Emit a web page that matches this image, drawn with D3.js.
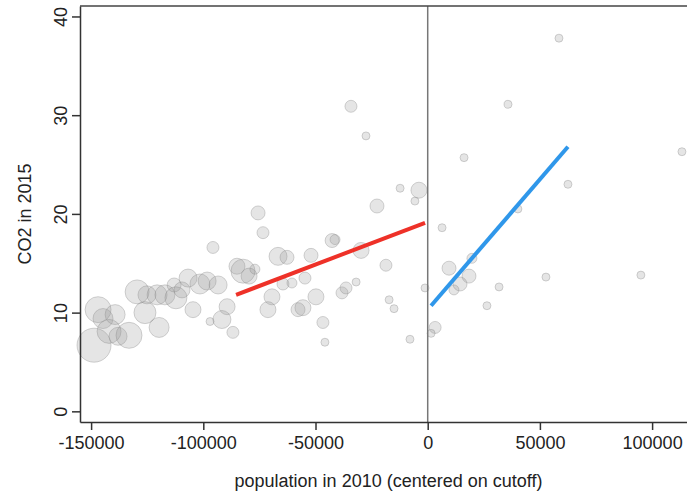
<!DOCTYPE html>
<html>
<head>
<meta charset="utf-8">
<script src="https://cdn.jsdelivr.net/npm/d3@7/dist/d3.min.js"></script>
<style>
  body { margin: 0; background: #fff; }
  text { font-family: "Liberation Sans", Arial, sans-serif; fill: #222; }
</style>
</head>
<body>
<div class="chart"></div>
<script>
const width = 687
const height = 493
const margin = { top: 6, right: 0, bottom: 71, left: 80 }

// population in 2010 (centered on cutoff), CO2 in 2015, bubble weight
const popX = [
  -148700, -146900, -144700, -139300, -142000, -138000, -133100, -129500, -126000, -125100,
  -120600, -117100, -119700, -113000, -112200, -109500, -106800, -104600, -101500, -98300,
  -93400, -95700, -89400, -91700, -97000, -86800, -85000, -82300, -79600, -77000,
  -75600, -73400, -66700, -62700, -52000, -54700, -64500, -60500, -69400, -71200,
  -57800, -55600, -49800, -46700, -45800, -42600, -41300, -29700, -34200, -27500,
  -22600, -12300, -3900, -5700, -18600, -38200, -36400, -31900, -17200, -15000,
  -7900, -1200, 3300, 1500, 6400, 16200, 35800, 58500, 40200, 62500,
  113300, 9500, 19700, 18400, 14400, 11700, 31800, 26400, 52700, 95000
]
const co2Y = [
  6.7, 10.3, 9.4, 9.8, 8.1, 7.6, 7.7, 12.1, 10.0, 11.8,
  11.8, 11.8, 8.5, 12.8, 11.5, 12.3, 13.5, 10.3, 12.9, 13.2,
  12.8, 16.6, 10.6, 9.3, 9.1, 8.0, 14.7, 14.2, 13.7, 14.4,
  20.1, 18.1, 15.7, 15.6, 15.8, 13.5, 12.9, 13.0, 11.6, 10.3,
  10.3, 10.5, 11.6, 9.0, 7.0, 17.3, 17.4, 16.3, 30.9, 27.9,
  20.8, 22.6, 22.4, 21.3, 14.8, 12.0, 12.5, 13.1, 11.3, 10.4,
  7.3, 12.5, 8.5, 7.9, 18.6, 25.7, 31.1, 37.8, 20.5, 23.0,
  26.3, 14.5, 15.5, 13.7, 12.9, 12.3, 12.6, 10.7, 13.6, 13.8
]
const weight = [
  289, 169, 100, 100, 144, 81, 169, 144, 121, 81,
  100, 100, 100, 49, 121, 64, 81, 64, 100, 81,
  81, 36, 64, 81, 16, 36, 64, 144, 64, 25,
  49, 36, 81, 49, 49, 36, 36, 25, 64, 64,
  49, 64, 64, 36, 16, 49, 25, 64, 36, 16,
  49, 16, 64, 16, 36, 36, 36, 16, 16, 16,
  16, 16, 36, 16, 16, 16, 16, 16, 16, 16,
  16, 49, 25, 49, 49, 25, 16, 16, 16, 16
]

// linear fits on each side of the cutoff
const fitLeftX = [-85400, -1200]
const fitLeftY = [11.8, 19.1]
const fitRightX = [1500, 62500]
const fitRightY = [10.7, 26.8]

const xTicks = [-150000, -100000, -50000, 0, 50000, 100000]
const yTicks = [0, 10, 20, 30, 40]

const svg = d3.select('.chart')
  .append('svg')
  .attr('width', width)
  .attr('height', height)

const x = d3.scaleLinear()
  .domain([-154950, 115550])
  .range([margin.left, width - margin.right])

const y = d3.scaleLinear()
  .domain([-1.08, 41.06])
  .range([height - margin.bottom, margin.top])

const r = d3.scaleSqrt().domain([0, 289]).range([0, 17])

const points = popX.map((d, i) => ({ x: d, y: co2Y[i], w: weight[i] }))

svg.append('g')
  .selectAll('circle')
  .data(points)
  .enter()
  .append('circle')
  .attr('cx', d => x(d.x))
  .attr('cy', d => y(d.y))
  .attr('r', d => r(d.w))
  .attr('fill', '#999')
  .attr('fill-opacity', 0.25)
  .attr('stroke', '#888')
  .attr('stroke-opacity', 0.35)
  .attr('stroke-width', 1)

// cutoff line
svg.append('line')
  .attr('x1', x(0)).attr('x2', x(0))
  .attr('y1', margin.top).attr('y2', height - margin.bottom)
  .attr('stroke', '#777')
  .attr('stroke-width', 1.5)

const line = d3.line().x(d => x(d[0])).y(d => y(d[1]))

svg.append('path')
  .attr('d', line(fitLeftX.map((d, i) => [d, fitLeftY[i]])))
  .attr('stroke', '#ee3128')
  .attr('stroke-width', 4)
  .attr('fill', 'none')

svg.append('path')
  .attr('d', line(fitRightX.map((d, i) => [d, fitRightY[i]])))
  .attr('stroke', '#2f97ea')
  .attr('stroke-width', 4)
  .attr('fill', 'none')

// top border
svg.append('line')
  .attr('x1', margin.left).attr('x2', width)
  .attr('y1', margin.top).attr('y2', margin.top)
  .attr('stroke', '#444')
  .attr('stroke-width', 1.5)

const xAxis = d3.axisBottom(x)
  .tickValues(xTicks)
  .tickFormat(d => String(d))
  .tickSize(8).tickPadding(6).tickSizeOuter(0)
const gx = svg.append('g')
  .attr('transform', `translate(0, ${height - margin.bottom})`)
  .call(xAxis)
gx.select('.domain').attr('stroke', '#333').attr('stroke-width', 1.5)
gx.selectAll('.tick line').attr('stroke', '#333').attr('stroke-width', 1.5)
gx.selectAll('.tick text')
  .style('font-size', '18px')
  .style('font-family', '"Liberation Sans", Arial, sans-serif')
  .attr('fill', '#222')

const yAxis = d3.axisLeft(y)
  .tickValues(yTicks)
  .tickFormat(d => String(d))
  .tickSize(8).tickPadding(6).tickSizeOuter(0)
const gy = svg.append('g')
  .attr('transform', `translate(${margin.left}, 0)`)
  .call(yAxis)
gy.select('.domain').attr('stroke', '#333').attr('stroke-width', 1.5)
gy.selectAll('.tick line').attr('stroke', '#333').attr('stroke-width', 1.5)
gy.selectAll('.tick text')
  .style('font-size', '18px')
  .style('font-family', '"Liberation Sans", Arial, sans-serif')
  .attr('fill', '#222')
  .attr('x', null)
  .attr('dy', null)
  .attr('text-anchor', 'middle')
  .attr('transform', 'translate(-13, 0) rotate(-90)')

svg.append('text')
  .attr('x', (margin.left + width) / 2 + 5)
  .attr('y', 487)
  .attr('text-anchor', 'middle')
  .style('font-size', '18px')
  .text('population in 2010 (centered on cutoff)')

svg.append('text')
  .attr('transform', `translate(31, ${(margin.top + height - margin.bottom) / 2}) rotate(-90)`)
  .attr('text-anchor', 'middle')
  .style('font-size', '18px')
  .text('CO2 in 2015')
</script>
</body>
</html>
